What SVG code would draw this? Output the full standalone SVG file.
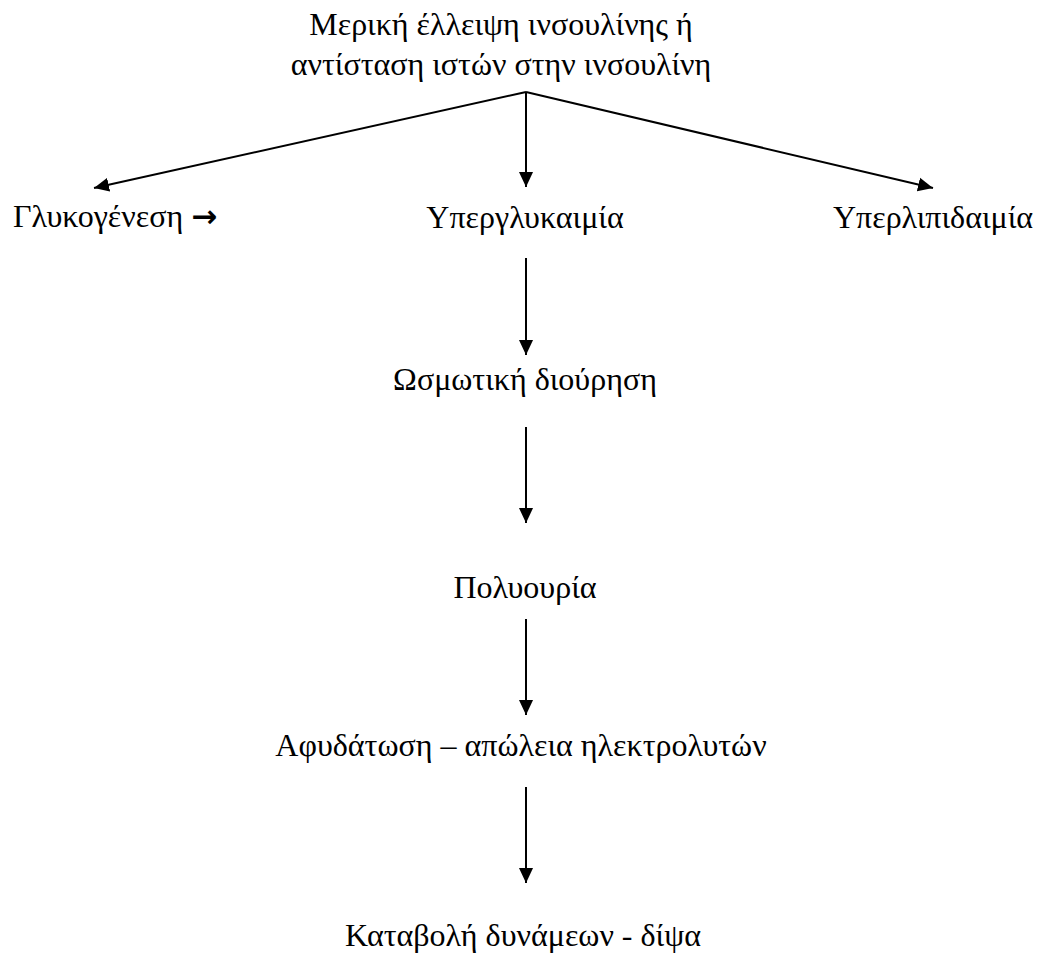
<svg xmlns="http://www.w3.org/2000/svg" width="1040" height="956" viewBox="0 0 1040 956">
<style>
text{font-family:"Liberation Serif","Times New Roman",serif;font-size:32px;fill:#000}
.m{text-anchor:middle}
.c{stroke:#000;stroke-width:2;fill:none}
.arr{font-family:"DejaVu Sans",sans-serif;font-weight:bold;font-size:31px}
</style>
<defs>
<marker id="ah" markerWidth="15" markerHeight="15" refX="16" refY="7.5" orient="auto" markerUnits="userSpaceOnUse" viewBox="0 0 16 15">
<path d="M0,0 L16,7.5 L0,15 Z" fill="#000"/>
</marker>
</defs>
<rect width="1040" height="956" fill="#fff"/>
<g id="connectors">
<line class="c" x1="526" y1="92" x2="94" y2="188" marker-end="url(#ah)"/>
<line class="c" x1="526" y1="92" x2="526" y2="187" marker-end="url(#ah)"/>
<line class="c" x1="526" y1="92" x2="933" y2="188" marker-end="url(#ah)"/>
<line class="c" x1="526" y1="258" x2="526" y2="355" marker-end="url(#ah)"/>
<line class="c" x1="526" y1="427" x2="526" y2="523" marker-end="url(#ah)"/>
<line class="c" x1="526" y1="619" x2="526" y2="715" marker-end="url(#ah)"/>
<line class="c" x1="526" y1="787" x2="526" y2="883" marker-end="url(#ah)"/>
</g>
<g id="top"><text class="m" x="501" y="35">Μερική έλλειψη ινσουλίνης ή</text><text class="m" x="501" y="75">αντίσταση ιστών στην ινσουλίνη</text></g>
<g id="glyko"><text x="13" y="227">Γλυκογένεση <tspan class="arr">→</tspan></text></g>
<g id="hyperglyk"><text class="m" x="525" y="228">Υπεργλυκαιμία</text></g>
<g id="hyperlip"><text class="m" x="933" y="228">Υπερλιπιδαιμία</text></g>
<g id="osm"><text class="m" x="525" y="390">Ωσμωτική διούρηση</text></g>
<g id="poly"><text class="m" x="525" y="598">Πολυουρία</text></g>
<g id="afyd"><text class="m" x="521" y="756">Αφυδάτωση – απώλεια ηλεκτρολυτών</text></g>
<g id="katab"><text class="m" x="523" y="946">Καταβολή δυνάμεων - δίψα</text></g>
</svg>
